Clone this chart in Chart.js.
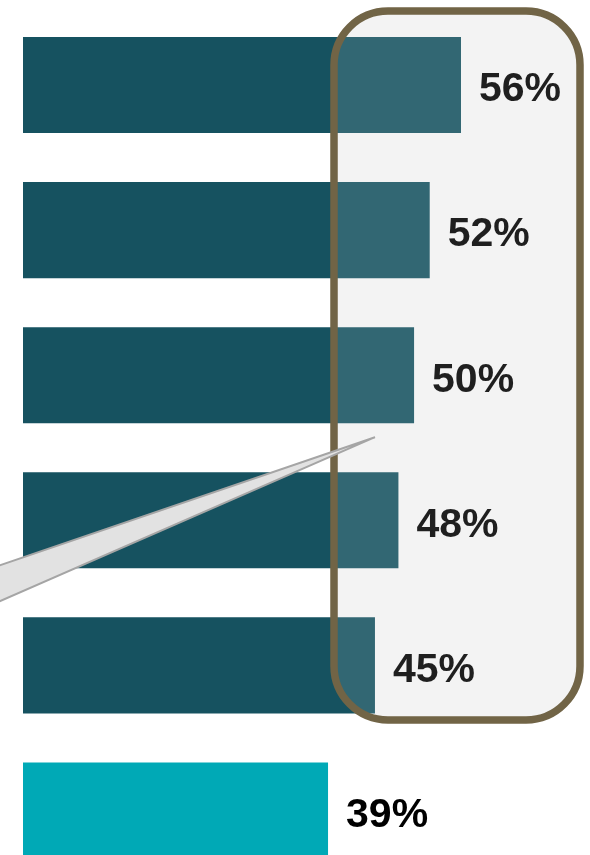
<!DOCTYPE html>
<html>
<head>
<meta charset="utf-8">
<script src="https://cdn.jsdelivr.net/npm/chart.js@4.4.0/dist/chart.umd.min.js"></script>
<style>
  html, body { margin: 0; padding: 0; background: #fff; overflow: hidden; }
  #wrap { position: relative; width: 590px; height: 883px; }
</style>
</head>
<body>
<div id="wrap"><canvas id="barChart"></canvas></div>
<script>
// chart data
const categories = ["Item 1", "Item 2", "Item 3", "Item 4", "Item 5", "Item 6"];
const values = [56, 52, 50, 48, 45, 39];
const valueLabels = ["56%", "52%", "50%", "48%", "45%", "39%"];

const DARK = "#165260";
const TEAL = "#00a9b6";

// rounded highlight box (pixel geometry, drawn as decoration)
const BOX = { x: 334, y: 11, w: 246, h: 709, r: 54 };

function roundRectPath(ctx, b) {
  ctx.beginPath();
  ctx.moveTo(b.x + b.r, b.y);
  ctx.lineTo(b.x + b.w - b.r, b.y);
  ctx.arcTo(b.x + b.w, b.y, b.x + b.w, b.y + b.r, b.r);
  ctx.lineTo(b.x + b.w, b.y + b.h - b.r);
  ctx.arcTo(b.x + b.w, b.y + b.h, b.x + b.w - b.r, b.y + b.h, b.r);
  ctx.lineTo(b.x + b.r, b.y + b.h);
  ctx.arcTo(b.x, b.y + b.h, b.x, b.y + b.h - b.r, b.r);
  ctx.lineTo(b.x, b.y + b.r);
  ctx.arcTo(b.x, b.y, b.x + b.r, b.y, b.r);
  ctx.closePath();
}

// light fill behind the bars
const boxBack = {
  id: "boxBack",
  beforeDatasetsDraw(chart) {
    const ctx = chart.ctx;
    ctx.save();
    roundRectPath(ctx, BOX);
    ctx.fillStyle = "#f2f2f2";
    ctx.fill();
    ctx.restore();
  }
};

// percentage labels to the right of each bar
const valueText = {
  id: "valueText",
  afterDatasetsDraw(chart) {
    const ctx = chart.ctx;
    const meta = chart.getDatasetMeta(0);
    ctx.save();
    ctx.font = "bold 41px 'Liberation Sans', Arial, sans-serif";
    ctx.fillStyle = "#000";
    ctx.textAlign = "left";
    ctx.textBaseline = "middle";
    meta.data.forEach((bar, i) => {
      ctx.fillText(valueLabels[i], bar.x + 18, bar.y + 5);
    });
    ctx.restore();
  }
};

// white veil + outline on top, then the callout tail
const boxFront = {
  id: "boxFront",
  afterDraw(chart) {
    const ctx = chart.ctx;
    ctx.save();
    roundRectPath(ctx, BOX);
    ctx.fillStyle = "rgba(255,255,255,0.12)";
    ctx.fill();
    ctx.lineWidth = 7.5;
    ctx.strokeStyle = "#716446";
    ctx.stroke();

    // callout tail pointing at the box
    const meta = chart.getDatasetMeta(0);
    const tipX = chart.scales.x.getPixelForValue(45);
    const tipY = meta.data[2].y + 62;
    ctx.beginPath();
    ctx.moveTo(tipX, tipY);
    ctx.lineTo(-2, 566);
    ctx.lineTo(-2, 602);
    ctx.closePath();
    ctx.fillStyle = "#e2e2e2";
    ctx.fill();
    ctx.lineWidth = 2;
    ctx.strokeStyle = "#a5a5a5";
    ctx.lineJoin = "miter";
    ctx.stroke();
    ctx.restore();
  }
};

const ctx = document.getElementById("barChart").getContext("2d");

const chartConfig = {
  type: "bar",
  data: {
    labels: categories,
    datasets: [
      {
        label: "Share",
        data: values,
        backgroundColor: [DARK, DARK, DARK, DARK, DARK, TEAL],
        borderWidth: 0,
        barPercentage: 1,
        categoryPercentage: 0.662,
      },
    ],
  },
  options: {
    indexAxis: "y",
    responsive: true,
    maintainAspectRatio: false,
    animation: false,
    layout: {
      padding: { left: 23, right: 19.5, top: 12.5, bottom: 0 },
    },
    scales: {
      x: { display: false, min: 0, max: 70 },
      y: { display: false },
    },
    plugins: {
      legend: { display: false },
      title: { display: false },
      tooltip: { enabled: false },
    },
  },
  plugins: [boxBack, valueText, boxFront],
};

const barChart = new Chart(ctx, chartConfig);
</script>
</body>
</html>
